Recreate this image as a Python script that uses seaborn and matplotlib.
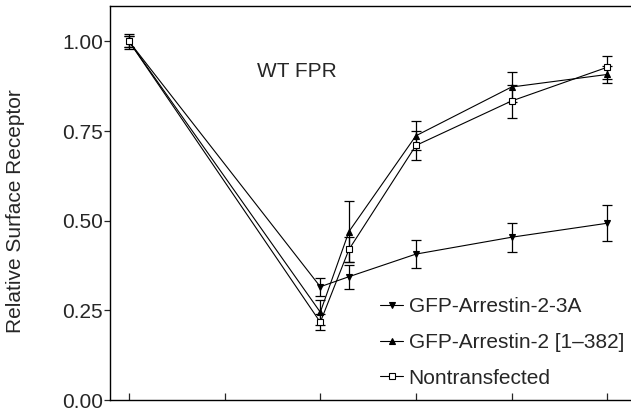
import matplotlib
matplotlib.use("Agg")
import matplotlib.pyplot as plt
import seaborn as sns
import pandas as pd
import numpy as np

sns.set_style("ticks")
plt.rcParams['font.family'] = ['Liberation Sans', 'DejaVu Sans']

time = [0, 20, 23, 30, 40, 50]
series_names = ["GFP-Arrestin-2-3A", "GFP-Arrestin-2 [1–382]", "Nontransfected"]
arr3a = [1.00, 0.316, 0.344, 0.407, 0.454, 0.493]
arr3a_err = [0.015, 0.025, 0.033, 0.04, 0.04, 0.05]
arr382 = [1.00, 0.245, 0.470, 0.737, 0.873, 0.908]
arr382_err = [0.015, 0.035, 0.085, 0.04, 0.042, 0.024]
nontr = [1.00, 0.217, 0.420, 0.710, 0.834, 0.928]
nontr_err = [0.02, 0.022, 0.035, 0.04, 0.046, 0.032]

values = [arr3a, arr382, nontr]
errs = [arr3a_err, arr382_err, nontr_err]
markers = ["v", "^", "s"]
msizes = [5, 5, 5]
mfc = ["black", "black", "white"]

rows = []
for name, vals in zip(series_names, values):
    for t, v in zip(time, vals):
        rows.append({"time": t, "value": v, "series": name})
df = pd.DataFrame(rows)

fig = plt.figure(figsize=(6.31, 4.15), dpi=100)
ax = fig.add_axes([0.1743, 0.0361, 0.8257, 0.9503])

for name, vals, err, m, ms, fc in zip(series_names, values, errs, markers, msizes, mfc):
    sub = df[df.series == name]
    sns.lineplot(data=sub, x="time", y="value", ax=ax, color="black",
                 linewidth=0.8, marker=m, markersize=ms,
                 markerfacecolor=fc, markeredgecolor="black", markeredgewidth=0.8,
                 label=name, legend=False)
    ax.errorbar(time, vals, yerr=err, fmt="none", ecolor="black",
                elinewidth=0.9, capsize=3.5, capthick=0.9, zorder=1)

ax.set_xlim(-2, 52.5)
ax.set_ylim(0, 1.1)
ax.set_xticks([0, 10, 20, 30, 40, 50])
ax.set_xticklabels([])
ax.set_yticks([0, 0.25, 0.5, 0.75, 1.0])
ax.set_yticklabels(["0.00", "0.25", "0.50", "0.75", "1.00"], fontsize=15)
ax.tick_params(axis="x", direction="in", length=5, width=0.9)
ax.tick_params(axis="y", direction="out", length=4, width=0.9, pad=1)
ax.set_xlabel("")
ax.set_ylabel("Relative Surface Receptor", fontsize=15)
ax.yaxis.set_label_coords(-0.163, 0.48)
for s in ["left", "bottom", "top"]:
    ax.spines[s].set_linewidth(1.0)
    ax.spines[s].set_color("black")
ax.spines["right"].set_visible(False)

ax.text(17.6, 0.915, "WT FPR", fontsize=15, ha="center", va="center")

leg = ax.legend(loc="lower left", bbox_to_anchor=(0.495, 0.0), frameon=False,
                fontsize=15, handlelength=1.1, handletextpad=0.25,
                labelspacing=0.8, borderaxespad=0.2, markerscale=0.85)

fig.savefig("out.png", dpi=100)
